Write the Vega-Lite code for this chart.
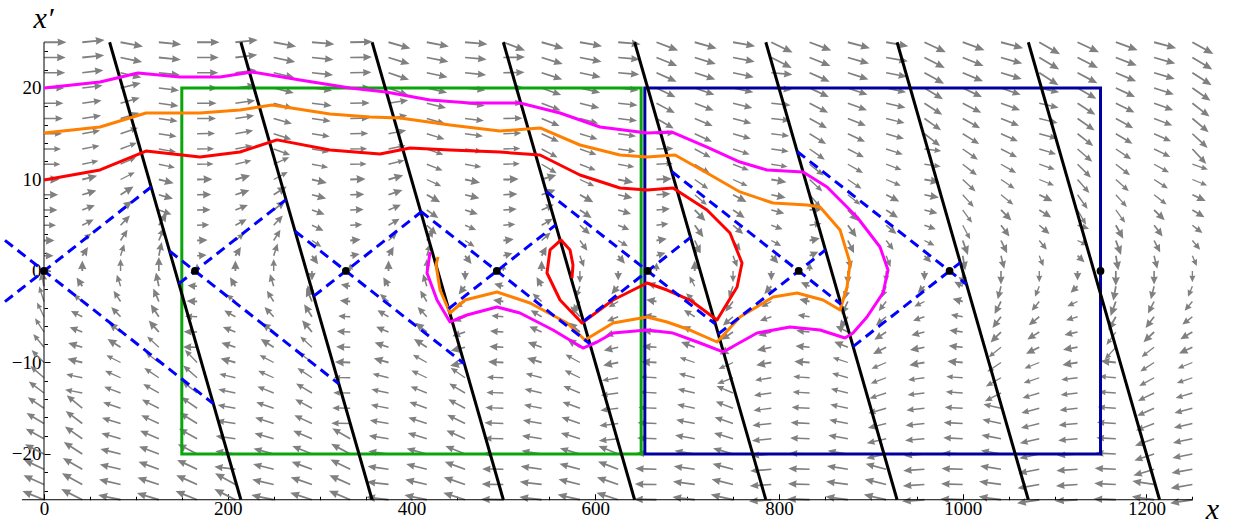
{
  "$schema": "https://vega.github.io/schema/vega-lite/v6.json",
  "width": 1234,
  "height": 530,
  "autosize": {"type": "none"},
  "padding": 0,
  "background": "white",
  "config": {"view": {"stroke": null}},
  "datasets": {
    "levels": [
      {"r": 1, "y": 25}, {"r": 2, "y": 23.333}, {"r": 3, "y": 21.667}, {"r": 4, "y": 20}, {"r": 5, "y": 18.333},
      {"r": 6, "y": 16.667}, {"r": 7, "y": 15}, {"r": 8, "y": 13.333}, {"r": 9, "y": 11.667}, {"r": 10, "y": 10},
      {"r": 11, "y": 8.333}, {"r": 12, "y": 6.667}, {"r": 13, "y": 5}, {"r": 14, "y": 3.333}, {"r": 15, "y": 1.667},
      {"r": 16, "y": 0}, {"r": 17, "y": -1.667}, {"r": 18, "y": -3.333}, {"r": 19, "y": -5}, {"r": 20, "y": -6.667},
      {"r": 21, "y": -8.333}, {"r": 22, "y": -10}, {"r": 23, "y": -11.667}, {"r": 24, "y": -13.333}, {"r": 25, "y": -15},
      {"r": 26, "y": -16.667}, {"r": 27, "y": -18.333}, {"r": 28, "y": -20}, {"r": 29, "y": -21.667}, {"r": 30, "y": -23.333},
      {"r": 31, "y": -25}
    ],
    "field": [
      {"x": 0, "t": [90,90,90,90,90,90,90,90,90,90,90,90,90,90,90,90,351,342,334,327,321,315,311,307,304,301,299,297,295,294,292], "m": [25,23,22,20,18,17,15,13,12,10,8,7,5,3,2,0,10,11,11,12,13,14,15,17,18,20,21,22,24,25,27]},
      {"x": 41.67, "t": [84,84,83,83,82,81,80,79,78,76,73,69,63,52,33,0,327,308,297,291,287,284,282,281,310,307,305,303,300,299,297], "m": [25,24,22,20,18,17,15,14,12,10,9,7,6,4,3,3,3,4,6,7,9,10,12,14,20,21,22,24,25,27,28]},
      {"x": 83.33, "t": [101,102,103,76,74,73,71,69,66,63,58,52,44,33,18,0,342,327,316,308,302,297,294,291,289,287,286,284,283,283,282], "m": [26,24,22,21,19,18,16,14,13,11,10,9,7,6,5,5,5,6,7,9,10,11,13,14,16,18,19,21,22,24,26]},
      {"x": 125, "t": [96,96,96,97,98,98,99,100,102,104,106,110,33,23,12,0,348,337,327,319,313,308,304,300,297,295,293,291,290,288,287], "m": [25,24,22,20,19,17,15,14,12,10,9,7,9,8,8,8,8,8,9,10,11,13,14,15,17,18,20,22,23,25,26]},
      {"x": 166.67, "t": [90,90,90,90,90,90,89,89,89,89,89,89,88,87,85,0,275,273,272,271,271,316,311,308,305,302,299,297,295,294,292], "m": [25,23,22,20,18,17,15,13,12,10,8,7,5,3,2,0,2,3,5,7,8,14,16,17,18,20,21,23,24,26,27]},
      {"x": 208.33, "t": [84,83,83,82,82,81,80,79,77,75,72,68,62,51,32,0,329,309,299,292,288,285,283,282,280,279,278,278,277,299,297], "m": [25,24,22,20,19,17,15,14,12,10,9,7,6,4,3,3,3,4,6,7,9,10,12,14,15,17,19,20,22,27,28]},
      {"x": 250, "t": [101,102,103,104,105,106,108,110,66,62,58,52,43,32,18,0,343,328,317,308,302,298,294,292,289,288,286,285,284,283,282], "m": [26,24,22,21,19,17,16,14,13,11,10,9,7,6,6,5,6,6,7,9,10,11,13,14,16,18,19,21,22,24,26]},
      {"x": 291.67, "t": [95,96,96,97,97,98,99,100,101,103,105,109,115,124,144,180,216,337,328,320,313,308,304,301,298,295,293,292,290,289,288], "m": [25,23,22,20,19,17,15,14,12,10,9,7,6,4,3,2,3,9,9,10,11,13,14,16,17,18,20,22,23,25,26]},
      {"x": 333.33, "t": [89,89,89,89,89,89,89,89,89,88,88,88,87,85,80,0,280,275,273,273,272,272,271,271,271,271,300,298,296,294,293], "m": [25,23,22,20,18,17,15,13,12,10,8,7,5,3,2,0,2,3,5,7,8,10,12,13,15,17,21,23,24,26,27]},
      {"x": 375, "t": [106,107,109,110,81,80,79,78,76,74,71,67,60,49,30,0,330,311,300,293,289,286,284,282,281,280,279,278,278,277,277], "m": [26,24,23,21,19,17,15,14,12,10,9,7,6,4,3,3,3,4,6,7,9,10,12,14,15,17,19,20,22,24,25]},
      {"x": 416.67, "t": [101,101,102,103,104,106,107,109,112,115,119,125,133,32,17,0,343,329,317,309,303,299,295,292,290,288,287,285,284,283,282], "m": [25,24,22,21,19,17,16,14,13,11,10,8,7,6,6,5,6,6,7,9,10,11,13,14,16,18,19,21,22,24,26]},
      {"x": 458.33, "t": [95,95,96,96,97,97,98,99,100,102,104,108,113,123,142,180,218,237,247,252,256,258,305,301,298,296,294,292,290,289,288], "m": [25,23,22,20,19,17,15,14,12,10,9,7,5,4,3,2,3,4,5,7,9,10,14,16,17,19,20,22,23,25,26]},
      {"x": 500, "t": [111,89,89,89,89,89,88,88,88,88,87,86,85,83,75,0,285,278,275,274,273,273,272,272,272,272,271,271,271,271,271], "m": [27,23,22,20,18,17,15,13,12,10,8,7,5,3,2,0,2,3,5,7,8,10,12,13,15,17,18,20,22,23,25]},
      {"x": 541.67, "t": [106,107,108,110,111,113,115,118,121,73,70,66,59,48,29,0,331,312,301,294,290,287,285,283,281,280,279,279,278,277,277], "m": [26,24,23,21,20,18,17,15,14,10,9,7,6,5,3,3,3,5,6,7,9,10,12,14,15,17,19,20,22,24,25]},
      {"x": 583.33, "t": [100,101,102,103,104,105,107,109,111,115,119,124,132,144,160,180,200,216,318,310,304,299,296,293,290,289,287,286,285,284,283], "m": [25,24,22,21,19,17,16,14,13,11,10,8,7,6,5,5,5,6,8,9,10,12,13,15,16,18,19,21,22,24,26]},
      {"x": 625, "t": [95,95,95,96,96,97,98,98,100,101,103,107,112,121,140,180,220,239,248,254,257,259,260,262,263,263,264,292,291,289,288], "m": [25,23,22,20,18,17,15,14,12,10,9,7,5,4,3,2,3,4,5,7,9,10,12,14,15,17,18,22,23,25,26]},
      {"x": 666.67, "t": [111,112,114,116,118,120,88,88,87,87,86,85,83,80,71,0,290,280,277,275,274,273,273,273,272,272,272,272,272,271,271], "m": [27,25,24,22,21,19,15,13,12,10,8,7,5,3,2,1,2,3,5,7,8,10,12,13,15,17,18,20,22,23,25]},
      {"x": 708.33, "t": [106,107,108,109,111,113,115,118,121,125,130,136,144,155,28,0,332,314,302,295,291,288,285,283,282,281,280,279,278,278,277], "m": [26,24,23,21,20,18,17,15,14,12,11,10,9,8,4,3,4,5,6,7,9,11,12,14,15,17,19,20,22,24,25]},
      {"x": 750, "t": [100,101,102,102,104,105,106,108,111,114,118,124,131,143,159,180,201,217,229,237,242,246,249,293,291,289,287,286,285,284,283], "m": [25,24,22,21,19,17,16,14,13,11,10,8,7,6,5,4,5,6,7,8,10,11,13,15,16,18,19,21,22,24,26]},
      {"x": 791.67, "t": [116,117,95,95,96,96,97,98,99,100,102,105,110,119,138,180,222,241,250,255,258,260,261,262,263,264,264,265,265,266,266], "m": [28,26,22,20,18,17,15,14,12,10,9,7,5,4,3,2,3,4,5,7,9,10,12,14,15,17,18,20,22,23,25]},
      {"x": 833.33, "t": [111,112,114,115,117,119,122,125,129,133,139,84,82,78,66,0,294,282,278,276,275,274,274,273,273,273,272,272,272,272,272], "m": [27,25,24,22,21,19,18,16,15,14,13,7,5,3,2,1,2,3,5,7,8,10,12,13,15,17,18,20,22,23,25]},
      {"x": 875, "t": [105,106,108,109,110,112,115,117,120,124,129,136,144,154,166,180,194,206,216,296,292,288,286,284,282,281,280,279,279,278,278], "m": [26,24,23,21,20,18,17,15,14,12,11,10,9,8,7,7,7,8,9,7,9,11,12,14,15,17,19,20,22,24,25]},
      {"x": 916.67, "t": [100,100,101,102,103,104,106,108,110,113,117,123,130,142,159,180,201,218,230,237,243,247,250,252,254,256,257,258,285,284,283], "m": [25,24,22,20,19,17,16,14,12,11,9,8,7,5,5,4,5,5,7,8,9,11,12,14,16,17,19,20,22,24,26]},
      {"x": 958.33, "t": [115,117,119,121,123,125,128,97,98,100,101,104,109,117,135,180,225,243,251,256,259,260,262,263,264,264,265,265,266,266,266], "m": [28,26,25,23,22,20,19,13,12,10,9,7,5,4,2,2,2,4,5,7,9,10,12,13,15,17,18,20,22,23,25]},
      {"x": 1000, "t": [110,112,113,115,117,119,122,125,128,133,138,144,152,160,170,180,298,285,280,278,276,275,274,274,273,273,273,273,272,272,272], "m": [27,25,24,22,21,19,18,16,15,14,12,11,11,10,9,9,2,3,5,7,8,10,12,13,15,17,18,20,22,23,25]},
      {"x": 1041.67, "t": [105,106,107,109,110,112,114,117,120,124,129,135,143,154,166,180,194,207,217,225,231,236,240,243,283,282,281,280,279,278,278], "m": [26,24,23,21,20,18,16,15,14,12,11,9,8,8,7,7,7,8,8,9,11,12,14,15,15,17,19,20,22,24,25]},
      {"x": 1083.33, "t": [120,121,123,102,103,104,105,107,109,112,116,122,130,141,158,180,202,219,231,238,244,248,251,253,255,256,257,258,259,260,261], "m": [29,27,26,20,19,17,16,14,12,11,9,8,7,5,4,4,4,5,7,8,9,11,12,14,16,17,19,20,22,24,25]},
      {"x": 1125, "t": [115,117,118,120,123,125,128,131,135,139,145,150,107,115,133,180,227,245,253,257,260,261,263,263,264,265,265,266,266,266,267], "m": [28,26,25,23,22,21,19,18,17,15,14,13,5,4,2,2,2,4,5,7,9,10,12,13,15,17,18,20,22,23,25]},
      {"x": 1166.67, "t": [110,111,113,115,116,119,121,124,128,132,138,144,151,160,170,180,190,200,209,216,222,276,275,274,274,274,273,273,273,273,272], "m": [27,25,24,22,21,19,18,16,15,14,12,11,10,10,9,9,9,10,10,11,12,10,12,13,15,17,18,20,22,23,25]},
      {"x": 1208.33, "t": [105,106,107,108,110,111,114,116,119,123,128,134,143,153,166,180,194,207,217,226,232,237,241,244,246,249,250,252,253,279,278], "m": [26,24,23,21,20,18,16,15,13,12,11,9,8,7,7,7,7,7,8,9,11,12,13,15,16,18,20,21,23,24,25]},
      {"x": 1250, "t": [119,121,123,125,128,130,133,137,109,112,115,121,128,140,157,180,203,220,232,239,245,248,251,253,255,257,258,259,260,260,261], "m": [29,27,26,24,23,22,21,20,12,11,9,8,6,5,4,4,4,5,6,8,9,11,12,14,16,17,19,20,22,24,25]}
    ],
    "frame": [
      {"x": -24, "x2": 1250, "y": -25, "y2": -25},
      {"x": 0, "x2": 0, "y": -25, "y2": 25}
    ],
    "boxes": [
      {"box": "first", "x": 150, "x2": 650, "y": -20, "y2": 20},
      {"box": "second", "x": 654, "x2": 1150, "y": -20, "y2": 20}
    ],
    "kicks": [
      {"k": 1, "x": 71.43, "y": 25}, {"k": 1, "x": 214.29, "y": -25},
      {"k": 2, "x": 214.29, "y": 25}, {"k": 2, "x": 357.14, "y": -25},
      {"k": 3, "x": 357.14, "y": 25}, {"k": 3, "x": 500, "y": -25},
      {"k": 4, "x": 500, "y": 25}, {"k": 4, "x": 642.86, "y": -25},
      {"k": 5, "x": 642.86, "y": 25}, {"k": 5, "x": 785.71, "y": -25},
      {"k": 6, "x": 785.71, "y": 25}, {"k": 6, "x": 928.57, "y": -25},
      {"k": 7, "x": 928.57, "y": 25}, {"k": 7, "x": 1071.43, "y": -25},
      {"k": 8, "x": 1071.43, "y": 25}, {"k": 8, "x": 1214.29, "y": -25}
    ],
    "separatrices": [
      {"s": "0a", "x": -42.5, "y": -3.35}, {"s": "0a", "x": 116.6, "y": 9.18},
      {"s": "0d", "x": -42.5, "y": 3.35}, {"s": "0d", "x": 184.3, "y": -14.5},
      {"s": "1a", "x": 146.8, "y": -1.38}, {"s": "1a", "x": 263.4, "y": 7.8},
      {"s": "1d", "x": 136.6, "y": 2.18}, {"s": "1d", "x": 320.9, "y": -12.33},
      {"s": "2a", "x": 293.6, "y": -2.75}, {"s": "2a", "x": 410.2, "y": 6.42},
      {"s": "2d", "x": 273.3, "y": 4.35}, {"s": "2d", "x": 457.6, "y": -10.15},
      {"s": "3a", "x": 440.4, "y": -4.13}, {"s": "3a", "x": 557.0, "y": 5.04},
      {"s": "3d", "x": 409.9, "y": 6.53}, {"s": "3d", "x": 594.2, "y": -7.96},
      {"s": "4a", "x": 587.1, "y": -5.51}, {"s": "4a", "x": 703.8, "y": 3.67},
      {"s": "4d", "x": 546.5, "y": 8.7}, {"s": "4d", "x": 730.9, "y": -5.81},
      {"s": "5a", "x": 733.9, "y": -6.89}, {"s": "5a", "x": 850.5, "y": 2.29},
      {"s": "5d", "x": 683.2, "y": 10.88}, {"s": "5d", "x": 867.5, "y": -3.63},
      {"s": "6a", "x": 880.7, "y": -8.26}, {"s": "6a", "x": 997.4, "y": 0.92},
      {"s": "6d", "x": 819.8, "y": 13.06}, {"s": "6d", "x": 1004.1, "y": -1.45}
    ],
    "saddles": [
      {"x": 0, "y": 0}, {"x": 164.29, "y": 0}, {"x": 328.57, "y": 0}, {"x": 492.86, "y": 0},
      {"x": 657.14, "y": 0}, {"x": 821.43, "y": 0}, {"x": 985.71, "y": 0}, {"x": 1150, "y": 0}
    ],
    "orbits": [
      {"c": "upper", "x": 0, "y": 20.0}, {"c": "upper", "x": 61.0, "y": 20.66}, {"c": "upper", "x": 102.3, "y": 21.64},
      {"c": "upper", "x": 148.0, "y": 21.2}, {"c": "upper", "x": 191.6, "y": 21.2}, {"c": "upper", "x": 226.4, "y": 21.75},
      {"c": "upper", "x": 278.7, "y": 20.87}, {"c": "upper", "x": 333.1, "y": 20.0}, {"c": "upper", "x": 372.3, "y": 19.56},
      {"c": "upper", "x": 420.2, "y": 18.69}, {"c": "upper", "x": 463.7, "y": 18.36}, {"c": "upper", "x": 501.8, "y": 18.36},
      {"c": "upper", "x": 518.1, "y": 18.36}, {"c": "upper", "x": 561.7, "y": 17.27}, {"c": "upper", "x": 605.2, "y": 15.74},
      {"c": "upper", "x": 656.4, "y": 15.08}, {"c": "upper", "x": 683.6, "y": 15.19}, {"c": "upper", "x": 721.7, "y": 13.55},
      {"c": "upper", "x": 757.6, "y": 11.91}, {"c": "upper", "x": 787.0, "y": 11.04}, {"c": "upper", "x": 826.2, "y": 10.82},
      {"c": "upper", "x": 852.3, "y": 9.18}, {"c": "upper", "x": 884.9, "y": 5.9}, {"c": "upper", "x": 910.0, "y": 2.62},
      {"c": "upper", "x": 918.7, "y": 0.11}, {"c": "upper", "x": 913.3, "y": -2.4}, {"c": "upper", "x": 895.8, "y": -5.03},
      {"c": "upper", "x": 880.6, "y": -6.78}, {"c": "upper", "x": 871.9, "y": -7.32}, {"c": "upper", "x": 844.7, "y": -6.45},
      {"c": "upper", "x": 812.0, "y": -6.12}, {"c": "upper", "x": 776.1, "y": -6.78}, {"c": "upper", "x": 739.1, "y": -8.85},
      {"c": "upper", "x": 714.1, "y": -7.87}, {"c": "upper", "x": 684.7, "y": -6.78}, {"c": "upper", "x": 656.4, "y": -6.45},
      {"c": "upper", "x": 619.4, "y": -6.78}, {"c": "upper", "x": 602.0, "y": -7.76}, {"c": "upper", "x": 586.7, "y": -8.42},
      {"c": "upper", "x": 554.1, "y": -6.45}, {"c": "upper", "x": 518.1, "y": -4.59}, {"c": "upper", "x": 493.1, "y": -3.93},
      {"c": "upper", "x": 460.4, "y": -4.81}, {"c": "upper", "x": 441.9, "y": -5.57}, {"c": "upper", "x": 427.8, "y": -3.17},
      {"c": "upper", "x": 416.9, "y": -0.22}, {"c": "upper", "x": 420.2, "y": 2.08},

      {"c": "middle", "x": 0, "y": 15.08}, {"c": "middle", "x": 61.0, "y": 15.74}, {"c": "middle", "x": 111.0, "y": 17.27},
      {"c": "middle", "x": 169.8, "y": 17.27}, {"c": "middle", "x": 213.3, "y": 17.6}, {"c": "middle", "x": 248.2, "y": 18.14},
      {"c": "middle", "x": 311.3, "y": 17.16}, {"c": "middle", "x": 354.9, "y": 16.83}, {"c": "middle", "x": 387.5, "y": 16.72},
      {"c": "middle", "x": 441.9, "y": 15.96}, {"c": "middle", "x": 496.3, "y": 15.3}, {"c": "middle", "x": 539.9, "y": 15.63},
      {"c": "middle", "x": 583.4, "y": 13.77}, {"c": "middle", "x": 627.0, "y": 12.68}, {"c": "middle", "x": 656.4, "y": 12.46},
      {"c": "middle", "x": 686.9, "y": 12.68}, {"c": "middle", "x": 721.7, "y": 10.71}, {"c": "middle", "x": 757.6, "y": 8.64},
      {"c": "middle", "x": 793.6, "y": 7.43}, {"c": "middle", "x": 830.6, "y": 7.21}, {"c": "middle", "x": 844.7, "y": 7.0},
      {"c": "middle", "x": 866.5, "y": 4.48}, {"c": "middle", "x": 877.4, "y": 0.87}, {"c": "middle", "x": 874.1, "y": -1.75},
      {"c": "middle", "x": 866.5, "y": -4.26}, {"c": "middle", "x": 848.0, "y": -3.17}, {"c": "middle", "x": 819.7, "y": -2.4},
      {"c": "middle", "x": 793.6, "y": -2.84}, {"c": "middle", "x": 757.6, "y": -5.03}, {"c": "middle", "x": 732.6, "y": -7.76},
      {"c": "middle", "x": 703.2, "y": -6.45}, {"c": "middle", "x": 678.2, "y": -5.57}, {"c": "middle", "x": 656.4, "y": -5.03},
      {"c": "middle", "x": 619.4, "y": -5.68}, {"c": "middle", "x": 588.9, "y": -7.54}, {"c": "middle", "x": 569.3, "y": -5.68},
      {"c": "middle", "x": 529.0, "y": -3.5}, {"c": "middle", "x": 493.1, "y": -2.3}, {"c": "middle", "x": 458.3, "y": -3.17},
      {"c": "middle", "x": 441.9, "y": -4.59}, {"c": "middle", "x": 431.1, "y": -2.08}, {"c": "middle", "x": 426.7, "y": 0.66},
      {"c": "middle", "x": 428.9, "y": 1.53},

      {"c": "lower", "x": 0, "y": 9.94}, {"c": "lower", "x": 61.0, "y": 11.04}, {"c": "lower", "x": 111.0, "y": 13.11},
      {"c": "lower", "x": 169.8, "y": 12.46}, {"c": "lower", "x": 213.3, "y": 13.0}, {"c": "lower", "x": 253.6, "y": 14.33},
      {"c": "lower", "x": 311.3, "y": 13.22}, {"c": "lower", "x": 365.7, "y": 12.79}, {"c": "lower", "x": 398.4, "y": 13.44},
      {"c": "lower", "x": 441.9, "y": 13.22}, {"c": "lower", "x": 496.3, "y": 13.0}, {"c": "lower", "x": 539.9, "y": 12.68},
      {"c": "lower", "x": 583.4, "y": 10.49}, {"c": "lower", "x": 627.0, "y": 9.07}, {"c": "lower", "x": 656.4, "y": 8.85},
      {"c": "lower", "x": 684.7, "y": 9.07}, {"c": "lower", "x": 721.7, "y": 6.67}, {"c": "lower", "x": 746.7, "y": 4.15},
      {"c": "lower", "x": 759.8, "y": 0.87}, {"c": "lower", "x": 754.4, "y": -1.75}, {"c": "lower", "x": 732.6, "y": -5.36},
      {"c": "lower", "x": 703.2, "y": -3.17}, {"c": "lower", "x": 678.2, "y": -2.08}, {"c": "lower", "x": 656.4, "y": -1.31},
      {"c": "lower", "x": 619.4, "y": -3.17}, {"c": "lower", "x": 585.6, "y": -5.68}, {"c": "lower", "x": 561.7, "y": -3.17},
      {"c": "lower", "x": 547.5, "y": -0.22}, {"c": "lower", "x": 550.8, "y": 2.3}, {"c": "lower", "x": 562.8, "y": 3.39},
      {"c": "lower", "x": 572.6, "y": 2.3}, {"c": "lower", "x": 575.8, "y": 0.66}, {"c": "lower", "x": 574.7, "y": -0.77}
    ]
  },
  "encoding": {
    "x": {
      "field": "x", "type": "quantitative",
      "scale": {"domain": [-47.894, 1295.3], "nice": false, "zero": false},
      "axis": {
        "orient": "bottom", "offset": -30.25, "domain": false, "grid": false,
        "values": [0, 50, 100, 150, 200, 250, 300, 350, 400, 450, 500, 550, 600, 650, 700, 750, 800, 850, 900, 950, 1000, 1050, 1100, 1150, 1200, 1250],
        "format": "d",
        "labelExpr": "datum.value % 200 === 0 ? datum.label : ''",
        "tickSize": {"condition": {"test": "datum.value % 200 === 0", "value": -6}, "value": -3.5},
        "tickColor": "black", "tickWidth": 1,
        "labelFont": "Liberation Serif", "labelFontSize": 19, "labelColor": "black", "labelPadding": 6,
        "labelFlush": false, "labelOverlap": false,
        "title": "x", "titleFont": "Liberation Serif", "titleFontStyle": "italic", "titleFontWeight": "normal",
        "titleFontSize": 30, "titleColor": "black", "titleX": 1212, "titleY": 19, "titleAlign": "center", "titleBaseline": "alphabetic"
      }
    },
    "y": {
      "field": "y", "type": "quantitative",
      "scale": {"domain": [-28.306, 29.617], "nice": false, "zero": false},
      "axis": {
        "orient": "left", "offset": -44, "domain": false, "grid": false,
        "values": [-24, -22, -20, -18, -16, -14, -12, -10, -8, -6, -4, -2, 0, 2, 4, 6, 8, 10, 12, 14, 16, 18, 20, 22, 24],
        "format": "d",
        "labelExpr": "datum.value % 10 === 0 ? datum.label : ''",
        "tickSize": {"condition": {"test": "datum.value % 10 === 0", "value": -6}, "value": -3.5},
        "tickColor": "black", "tickWidth": 1,
        "labelFont": "Liberation Serif", "labelFontSize": 19, "labelColor": "black", "labelPadding": 9,
        "labelFlush": false, "labelOverlap": false,
        "title": "x′", "titleFont": "Liberation Serif", "titleFontStyle": "italic", "titleFontWeight": "normal",
        "titleFontSize": 30, "titleColor": "black", "titleAngle": 0, "titleX": -1, "titleY": 27, "titleAlign": "center", "titleBaseline": "alphabetic"
      }
    }
  },
  "layer": [
    {
      "data": {"name": "field"},
      "transform": [
        {"flatten": ["t", "m"]},
        {"window": [{"op": "row_number", "as": "r"}], "groupby": ["x"]},
        {"lookup": "r", "from": {"data": {"name": "levels"}, "key": "r", "fields": ["y"]}}
      ],
      "mark": {"type": "point", "filled": true, "color": "#808080", "opacity": 1, "strokeWidth": 0},
      "encoding": {
        "angle": {"field": "t", "type": "quantitative", "scale": null},
        "size": {"field": "m", "type": "quantitative", "scale": {"type": "linear", "domain": [0, 28], "range": [55, 560], "zero": false}, "legend": null},
        "shape": {
          "field": "m", "type": "quantitative",
          "scale": {
            "type": "threshold", "domain": [4, 11],
            "range": [
              "M-0.18,0L-0.18,-0.45L-0.8,-0.35L0,-2L0.8,-0.35L0.18,-0.45L0.18,0Z",
              "M-0.12,0L-0.12,-0.9L-0.55,-0.82L0,-2L0.55,-0.82L0.12,-0.9L0.12,0Z",
              "M-0.08,0L-0.08,-1.25L-0.34,-1.2L0,-2L0.34,-1.2L0.08,-1.25L0.08,0Z"
            ]
          },
          "legend": null
        }
      }
    },
    {
      "data": {"name": "frame"},
      "mark": {"type": "rule", "color": "black", "strokeWidth": 1},
      "encoding": {"x2": {"field": "x2"}, "y2": {"field": "y2"}}
    },
    {
      "data": {"name": "boxes"},
      "mark": {"type": "rect", "filled": false, "strokeWidth": 3},
      "encoding": {
        "x2": {"field": "x2"}, "y2": {"field": "y2"},
        "stroke": {"field": "box", "type": "nominal", "scale": {"domain": ["first", "second"], "range": ["#0aa50a", "#00009c"]}, "legend": null}
      }
    },
    {
      "data": {"name": "kicks"},
      "mark": {"type": "line", "color": "black", "strokeWidth": 3},
      "encoding": {"detail": {"field": "k", "type": "nominal"}}
    },
    {
      "data": {"name": "orbits"},
      "transform": [{"window": [{"op": "row_number", "as": "i"}]}],
      "mark": {"type": "line", "strokeWidth": 3, "strokeJoin": "round"},
      "encoding": {
        "order": {"field": "i", "type": "quantitative"},
        "color": {"field": "c", "type": "nominal", "scale": {"domain": ["upper", "middle", "lower"], "range": ["#ff00ff", "#ff8000", "#ff0000"]}, "legend": null}
      }
    },
    {
      "data": {"name": "separatrices"},
      "mark": {"type": "line", "color": "#0000ff", "strokeWidth": 3, "strokeDash": [10, 6]},
      "encoding": {"detail": {"field": "s", "type": "nominal"}}
    },
    {
      "data": {"name": "saddles"},
      "mark": {"type": "point", "filled": true, "color": "black", "size": 60, "opacity": 1}
    }
  ]
}
